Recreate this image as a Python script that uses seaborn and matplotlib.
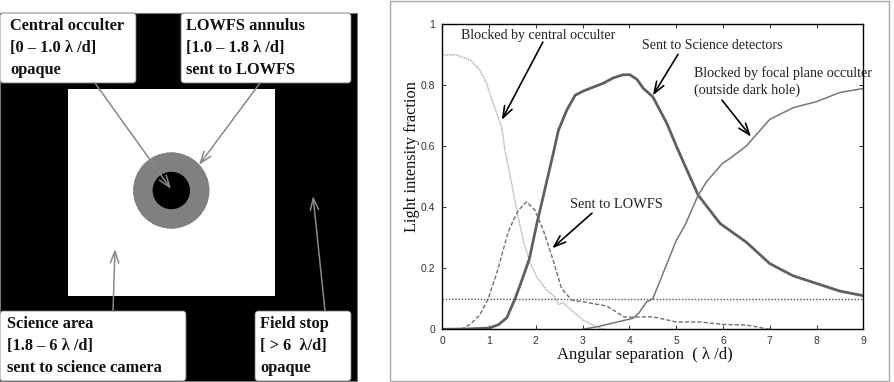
import matplotlib
matplotlib.use("Agg")
import matplotlib.pyplot as plt
import pandas as pd
import seaborn as sns
from matplotlib.patches import Circle, FancyBboxPatch, Rectangle

# === Curves ===
central_x = [0, 0.31, 0.6, 0.81, 0.95, 1.09, 1.27, 1.34, 1.47, 1.59, 1.73, 1.87, 2.02, 2.23, 2.41, 2.48, 2.59, 2.8, 3.01, 3.3, 3.48]
central_y = [0.898, 0.898, 0.88, 0.847, 0.803, 0.738, 0.661, 0.585, 0.488, 0.39, 0.291, 0.22, 0.171, 0.128, 0.106, 0.082, 0.086, 0.057, 0.03, 0.008, 0]

lowfs_x = [0, 0.41, 0.59, 0.8, 0.98, 1.16, 1.41, 1.52, 1.63, 1.8, 1.98, 2.16, 2.37, 2.55, 2.77, 3.01, 3.52, 3.88, 4.0, 4.5, 5.0, 5.5, 6.0, 6.5, 7.0]
lowfs_y = [0, 0, 0.016, 0.046, 0.1, 0.182, 0.319, 0.357, 0.39, 0.417, 0.39, 0.324, 0.226, 0.133, 0.095, 0.09, 0.076, 0.041, 0.04, 0.041, 0.024, 0.024, 0.016, 0.014, 0]

science_x = [0, 0.5, 1.0, 1.2, 1.38, 1.55, 1.7, 1.86, 2.02, 2.12, 2.22, 2.37, 2.48, 2.66, 2.84, 3.02, 3.44, 3.66, 3.87, 4.01, 4.16, 4.3, 4.5, 4.8, 5.01, 5.23, 5.47, 5.94, 6.5, 7.0, 7.5, 8.0, 8.5, 9.0]
science_y = [0, 0.001, 0.004, 0.015, 0.038, 0.098, 0.16, 0.23, 0.345, 0.41, 0.476, 0.574, 0.65, 0.717, 0.766, 0.78, 0.805, 0.823, 0.833, 0.833, 0.818, 0.788, 0.761, 0.674, 0.597, 0.521, 0.439, 0.346, 0.285, 0.215, 0.175, 0.15, 0.125, 0.11]

focal_x = [3.0, 3.33, 4.08, 4.21, 4.37, 4.5, 5.0, 5.19, 5.47, 5.65, 5.99, 6.15, 6.5, 7.0, 7.5, 8.0, 8.5, 9.0]
focal_y = [0, 0.009, 0.036, 0.055, 0.09, 0.1, 0.29, 0.341, 0.439, 0.483, 0.543, 0.559, 0.6, 0.687, 0.725, 0.745, 0.775, 0.788]

level_x = [0, 9]
level_y = [0.1, 0.1]

x_ticks = [0, 1, 2, 3, 4, 5, 6, 7, 8, 9]
y_ticks = [0, 0.2, 0.4, 0.6, 0.8, 1]
y_tick_labels = ["0", "0.2", "0.4", "0.6", "0.8", "1"]

sns.set_theme(style="white")
plt.rcParams["font.family"] = ["Liberation Serif", "DejaVu Serif"]

W, H = 895, 382
fig = plt.figure(figsize=(W / 100, H / 100), dpi=100)

# === Background axes in pixels: panel frame and the mask diagram ===
bg = fig.add_axes([0, 0, 1, 1])
bg.set_xlim(0, W)
bg.set_ylim(H, 0)
bg.axis("off")

bg.add_patch(Rectangle((390.5, 0.5), 499, 380.5, fc="white", ec="#aaaaaa", lw=1))
bg.add_patch(Rectangle((0, 13), 357.5, 368, fc="black", ec="#777777", lw=0.8))
bg.add_patch(Rectangle((68.5, 89), 206.5, 206.5, fc="white", ec="none"))
bg.add_patch(Circle((171.3, 190.5), 37.8, fc="#808080", ec="#777777", lw=0.5))
bg.add_patch(Circle((171.3, 190.5), 18.7, fc="black", ec="none"))

boxes = [
    (0, 13, 136, 70, "Central occulter\n[0 – 1.0 λ /d]\nopaque", 10),
    (181, 13, 170, 70, "LOWFS annulus\n[1.0 – 1.8 λ /d]\nsent to LOWFS", 186),
    (0, 311, 186, 70, "Science area\n[1.8 – 6 λ /d]\nsent to science camera", 7),
    (255, 311, 96, 70, "Field stop\n[ > 6  λ/d]\nopaque", 260),
]
for x0, y0, w, h, label, tx in boxes:
    bg.add_patch(FancyBboxPatch((x0 + 2, y0 + 2), w - 4, h - 4, boxstyle="round,pad=2,rounding_size=3",
                                fc="white", ec="#777777", lw=0.6))
    bg.text(tx, y0 + 35, label, fontsize=11.8, fontweight="bold", color="#111111",
            va="center", ha="left", linespacing=1.5)

mask_arrows = [
    ((95, 83), (171, 189)),
    ((260, 83), (199, 165)),
    ((113, 311), (115, 249)),
    ((325, 311), (313, 196)),
]
for start, end in mask_arrows:
    bg.annotate("", xy=end, xytext=start,
                arrowprops=dict(arrowstyle="->,head_length=0.7,head_width=0.25", color="#888888",
                                lw=1.1, shrinkA=0, shrinkB=0))

# === Curves panel ===
ax = fig.add_axes([442.3 / W, 1 - 329.3 / H, (863.3 - 442.3) / W, (329.3 - 23.7) / H])
ax.patch.set_alpha(0)

sns.lineplot(x=central_x, y=central_y, ax=ax, color="#aaaaaa", lw=1, linestyle=(0, (1, 0.6)))
sns.lineplot(x=lowfs_x, y=lowfs_y, ax=ax, color="#707070", lw=1, linestyle=(0, (3, 1.5)))
sns.lineplot(x=science_x, y=science_y, ax=ax, color="#606060", lw=2)
sns.lineplot(x=focal_x, y=focal_y, ax=ax, color="#777777", lw=1.1)
sns.lineplot(x=level_x, y=level_y, ax=ax, color="#555555", lw=1, linestyle=(0, (1, 1.3)))

ax.set_xlim(0, 9)
ax.set_ylim(0, 1)
ax.set_xticks(x_ticks)
ax.set_yticks(y_ticks)
ax.set_yticklabels(y_tick_labels)
ax.tick_params(direction="in", top=True, right=True, bottom=True, left=True, length=3, width=0.7,
               labelsize=7.5, pad=5, color="#333333", labelcolor="#333333")
for lab in ax.get_xticklabels() + ax.get_yticklabels():
    lab.set_family("Liberation Sans")
for s in ax.spines.values():
    s.set_color("black")
    s.set_linewidth(1)

ax.set_xlabel("Angular separation  ( λ /d)", fontsize=12, color="#111111")
ax.xaxis.set_label_coords(0.482, -0.058)
ax.set_ylabel("Light intensity fraction", fontsize=11.8, color="#111111")
ax.yaxis.set_label_coords(-0.052, 0.564)

notes = [
    (0.4, 0.963, "Blocked by central occulter", 10.1),
    (4.26, 0.93, "Sent to Science detectors", 10.1),
    (5.39, 0.81, "Blocked by focal plane occulter\n(outside dark hole)", 10.1),
    (2.72, 0.41, "Sent to LOWFS", 10.4),
]
for nx, ny, label, size in notes:
    ax.text(nx, ny, label, fontsize=size, va="center", ha="left", color="#222222", clip_on=False, linespacing=1.3)

note_arrows = [
    ((2.15, 0.94), (1.27, 0.685)),
    ((5.04, 0.9), (4.5, 0.765)),
    ((5.98, 0.75), (6.6, 0.63)),
    ((3.2, 0.38), (2.35, 0.265)),
]
for start, end in note_arrows:
    ax.annotate("", xy=end, xytext=start,
                arrowprops=dict(arrowstyle="->,head_length=0.7,head_width=0.25", color="black",
                                lw=1.2, shrinkA=0, shrinkB=0))

fig.savefig("out.png", dpi=100)
